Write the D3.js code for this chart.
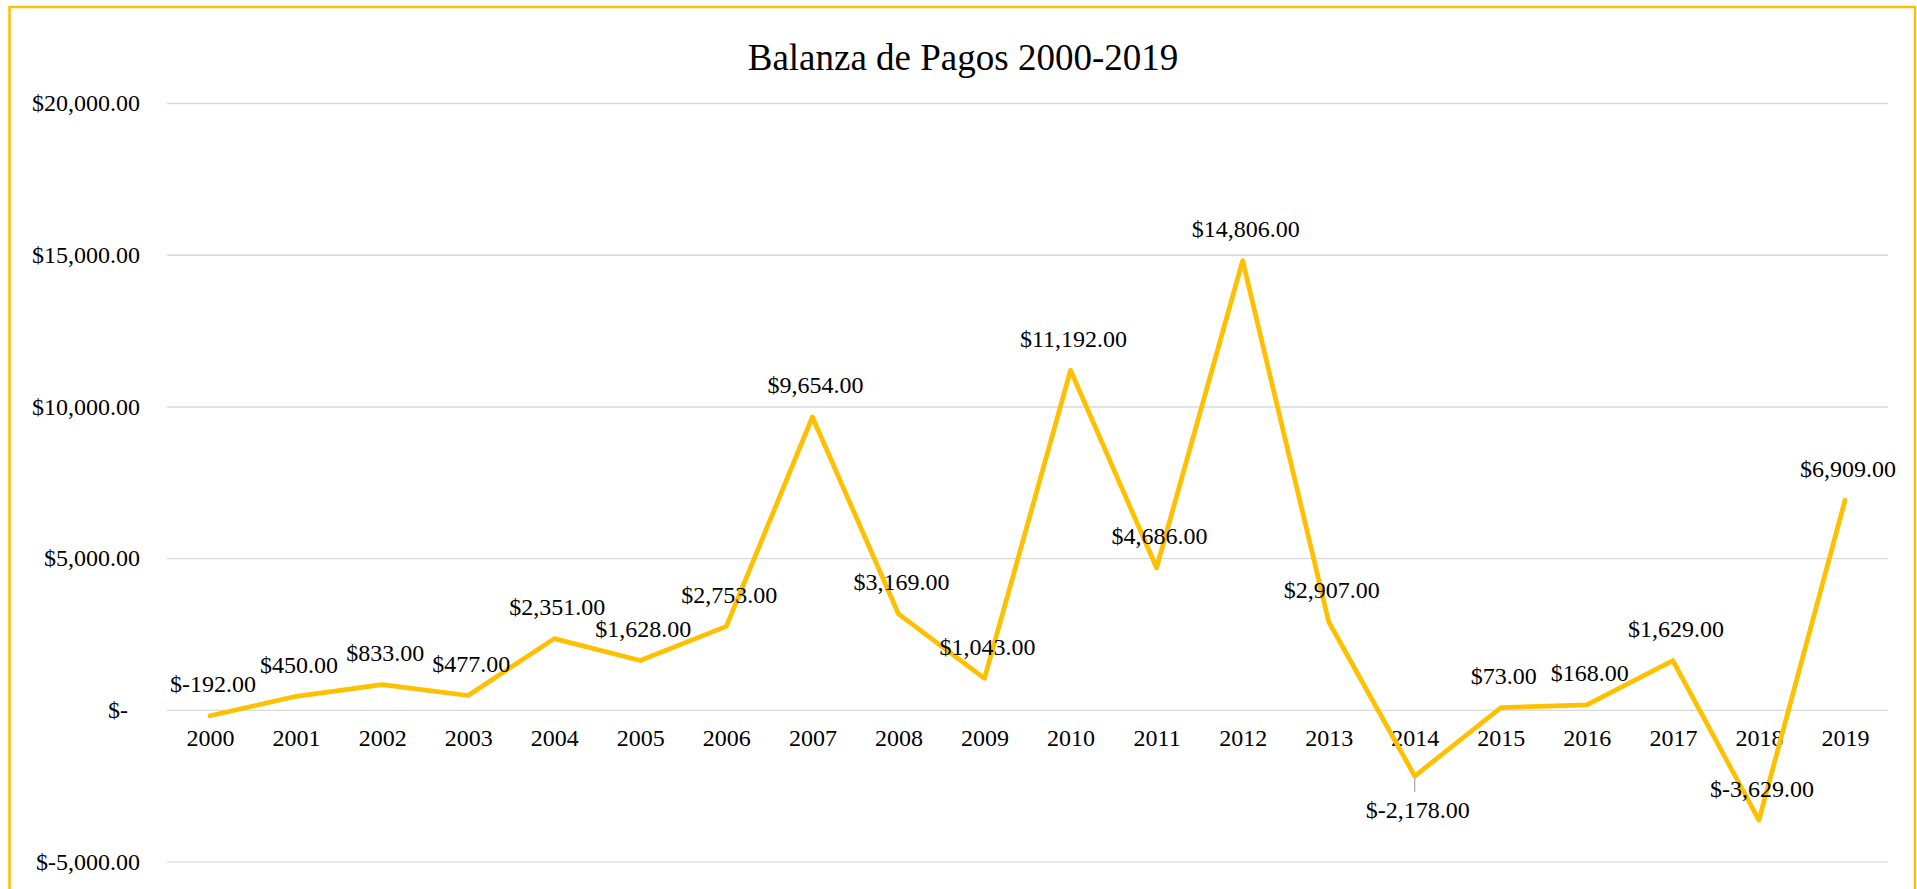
<!DOCTYPE html>
<html>
<head>
<meta charset="utf-8">
<script src="https://cdn.jsdelivr.net/npm/d3@7"></script>
<style>
  html, body { margin: 0; padding: 0; background: #fff; }
  svg { display: block; }
  text { font-family: "Liberation Serif", "Times New Roman", serif; fill: #000; }
</style>
</head>
<body>
<svg id="chart" width="1917" height="889"></svg>
<script>
const title = "Balanza de Pagos 2000-2019";
const years = ["2000","2001","2002","2003","2004","2005","2006","2007","2008","2009",
               "2010","2011","2012","2013","2014","2015","2016","2017","2018","2019"];
const values = [-192, 450, 833, 477, 2351, 1628, 2753, 9654, 3169, 1043,
                11192, 4686, 14806, 2907, -2178, 73, 168, 1629, -3629, 6909];
const yTicks = [-5000, 0, 5000, 10000, 15000, 20000];
const labelsBelow = ["2014"];

const W = 1917, H = 889;
const M = { left: 167, right: 1888, top: 103, bottom: 861.7 };
const gold = "#FFC000";

const loc = d3.formatLocale({ decimal: ".", thousands: ",", grouping: [3], currency: ["$", ""], minus: "-" });
const num = loc.format(",.2f");
const money = v => v === 0 ? "$-" : "$" + num(v);

const svg = d3.select("#chart");

// outer border
svg.append("rect")
  .attr("x", 9.5).attr("y", 7)
  .attr("width", 1915 - 9.5).attr("height", 1000)
  .attr("fill", "#fff")
  .attr("stroke", gold).attr("stroke-width", 2.5);

const x = d3.scalePoint().domain(years).range([M.left, M.right]).padding(0.5);
const y = d3.scaleLinear().domain([-5000, 20000]).range([M.bottom, M.top]);

// title
svg.append("text")
  .attr("x", 963).attr("y", 70)
  .attr("text-anchor", "middle")
  .style("font-size", "37px")
  .text(title);

// gridlines + y labels via axis
const yAxis = d3.axisLeft(y).tickValues(yTicks)
  .tickSize(-(M.right - M.left)).tickPadding(27)
  .tickFormat(money);
const gy = svg.append("g").attr("transform", `translate(${M.left},0)`).call(yAxis);
gy.select(".domain").remove();
gy.selectAll(".tick line").attr("stroke", "#d9d9d9").attr("stroke-width", 1.3);
gy.selectAll(".tick text")
  .style("font-size", "24px").attr("fill", "#000")
  .attr("font-family", null)
  .attr("dx", d => d === 0 ? -12 : 0);

// x labels via axis
const xAxis = d3.axisBottom(x).tickSize(0).tickPadding(0);
const gx = svg.append("g").attr("transform", `translate(0,${y(0)})`).call(xAxis);
gx.select(".domain").remove();
gx.selectAll(".tick text")
  .style("font-size", "24px").attr("fill", "#000")
  .attr("font-family", null)
  .attr("dy", null).attr("y", 36);

// line
const line = d3.line().x((d, i) => x(years[i])).y(d => y(d));
svg.append("path")
  .datum(values)
  .attr("d", line)
  .attr("fill", "none")
  .attr("stroke", gold)
  .attr("stroke-width", 4.75)
  .attr("stroke-linejoin", "round")
  .attr("stroke-linecap", "round");

// leader lines for labels placed below
svg.selectAll(".leader")
  .data(years.map((yr, i) => ({ yr, v: values[i] })).filter(d => labelsBelow.includes(d.yr)))
  .enter().append("line")
  .attr("x1", d => x(d.yr)).attr("x2", d => x(d.yr))
  .attr("y1", d => y(d.v) + 2).attr("y2", d => y(d.v) + 16)
  .attr("stroke", "#a6a6a6").attr("stroke-width", 1.2);

// data labels
svg.selectAll(".dl")
  .data(years.map((yr, i) => ({ yr, v: values[i] })))
  .enter().append("text")
  .attr("class", "dl")
  .attr("x", d => x(d.yr) + 3)
  .attr("y", d => labelsBelow.includes(d.yr) ? y(d.v) + 42 : y(d.v) - 23.5)
  .attr("text-anchor", "middle")
  .style("font-size", "24px")
  .text(d => money(d.v));
</script>
</body>
</html>
